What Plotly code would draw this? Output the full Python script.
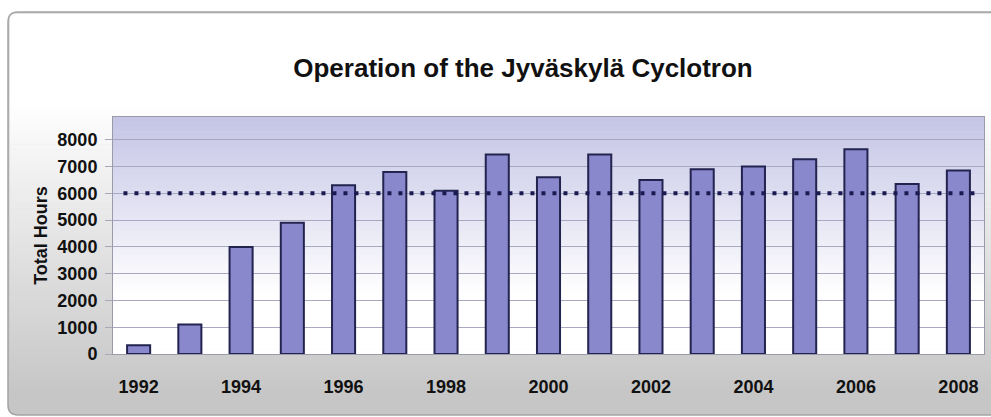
import plotly.graph_objects as go

# ---- data ----
years = [1992, 1993, 1994, 1995, 1996, 1997, 1998, 1999, 2000,
         2001, 2002, 2003, 2004, 2005, 2006, 2007, 2008]
hours = [330, 1100, 4000, 4900, 6300, 6800, 6100, 7450, 6600,
         7450, 6500, 6900, 7000, 7270, 7650, 6350, 6850]
target_hours = 6000
y_ticks = [0, 1000, 2000, 3000, 4000, 5000, 6000, 7000, 8000]
x_ticks = [1992, 1994, 1996, 1998, 2000, 2002, 2004, 2006, 2008]
title_text = "Operation of the Jyväskylä Cyclotron"
y_title = "Total Hours"

W, H = 991, 417
L, R, T, B = 113, 984, 117, 354  # plot area in pixels

def px(x):
    return (x - L) / (R - L)

def py(y):
    return (B - y) / (B - T)

def lerp(c1, c2, t):
    return "rgb(%d,%d,%d)" % tuple(round(a + (b - a) * t) for a, b in zip(c1, c2))

shapes = []

# outer frame (rounded) filled with bottom colour
fx0, fy0, fx1, fy1, r = 8, 12, 1010, 415, 10
frame_path = (
    f"M {px(fx0 + r)},{py(fy0)} L {px(fx1)},{py(fy0)} L {px(fx1)},{py(fy1)} "
    f"L {px(fx0 + r)},{py(fy1)} Q {px(fx0)},{py(fy1)} {px(fx0)},{py(fy1 - r)} "
    f"L {px(fx0)},{py(fy0 + r)} Q {px(fx0)},{py(fy0)} {px(fx0 + r)},{py(fy0)} Z"
)
gray_bottom = (198, 198, 198)
shapes.append(dict(type="path", path=frame_path, xref="paper", yref="paper",
                   fillcolor=lerp(gray_bottom, gray_bottom, 0), line=dict(width=0),
                   layer="below"))
# vertical gradient inside frame: white -> gray
n = 60
g_top, g_bot = 100, 395
for i in range(n):
    y0 = g_top + (g_bot - g_top) * i / n
    y1 = g_top + (g_bot - g_top) * (i + 1) / n + 0.6
    t = (i + 0.5) / n
    shapes.append(dict(type="rect", xref="paper", yref="paper",
                       x0=px(fx0 + 1.5), x1=px(fx1), y0=py(y0), y1=py(y1),
                       fillcolor=lerp((255, 255, 255), gray_bottom, t),
                       line=dict(width=0), layer="below"))
shapes.append(dict(type="rect", xref="paper", yref="paper",
                   x0=px(fx0 + 1.5), x1=px(fx1), y0=py(fy0 + 1.5), y1=py(g_top + 0.5),
                   fillcolor="white", line=dict(width=0), layer="below"))
# frame border
shapes.append(dict(type="path", path=frame_path, xref="paper", yref="paper",
                   fillcolor="rgba(0,0,0,0)", line=dict(color="#a4a4a4", width=1.5),
                   layer="below"))

# plot-area gradient: lavender top -> white
m = 50
lav = (196, 196, 230)
for i in range(m):
    y0 = T + (B - T) * i / m
    y1 = T + (B - T) * (i + 1) / m + 0.6
    t = min(1.0, ((i + 0.5) / m) / 0.75)
    shapes.append(dict(type="rect", xref="paper", yref="paper",
                       x0=0, x1=1, y0=py(y0), y1=py(y1),
                       fillcolor=lerp(lav, (255, 255, 255), t),
                       line=dict(width=0), layer="below"))
# target line
shapes.append(dict(type="line", xref="paper", yref="y", x0=0.012, x1=0.997,
                   y0=target_hours, y1=target_hours,
                   line=dict(color="#1a1a50", width=4, dash="4px,7px"), layer="above"))

fig = go.Figure()
fig.add_trace(go.Bar(
    x=years, y=hours, width=0.45,
    marker=dict(color="#8a88cc", line=dict(color="#23234f", width=2)),
    hoverinfo="x+y",
))

font_bold = "Liberation Sans, Arial, sans-serif"
fig.update_layout(
    width=W, height=H,
    margin=dict(l=L, r=W - R, t=T, b=H - B, autoexpand=False),
    paper_bgcolor="white",
    plot_bgcolor="rgba(0,0,0,0)",
    showlegend=False,
    shapes=shapes,
    title=dict(text="<b>" + title_text + "</b>", xref="container", yref="container",
               x=523 / W, y=1 - 68 / H, xanchor="center", yanchor="middle",
               font=dict(family=font_bold, size=26, color="#111111")),
    xaxis=dict(range=[1991.5, 2008.5], tickvals=x_ticks,
               ticktext=["<b>%d</b>" % v for v in x_ticks],
               showgrid=False, zeroline=False,
               showline=True, linecolor="#9a9aa8", linewidth=1, mirror=True,
               ticks="", ticklabelstandoff=16,
               tickfont=dict(family=font_bold, size=18, color="#111111")),
    yaxis=dict(range=[0, 8850], tickvals=y_ticks,
               ticktext=["<b>%d</b>" % v for v in y_ticks],
               showgrid=True, gridcolor="#a8a8c0", gridwidth=1, zeroline=False,
               showline=True, linecolor="#9a9aa8", linewidth=1, mirror=True,
               ticks="outside", ticklen=7, tickcolor="#a8a8b8",
               ticklabelstandoff=4,
               tickfont=dict(family=font_bold, size=18, color="#111111"),
               title=dict(text="<b>" + y_title + "</b>", standoff=5,
                          font=dict(family=font_bold, size=18, color="#111111"))),
)

fig.write_html("out.html", config={"displayModeBar": False},
               post_script="document.body.style.margin='0';document.body.style.overflow='hidden';")
